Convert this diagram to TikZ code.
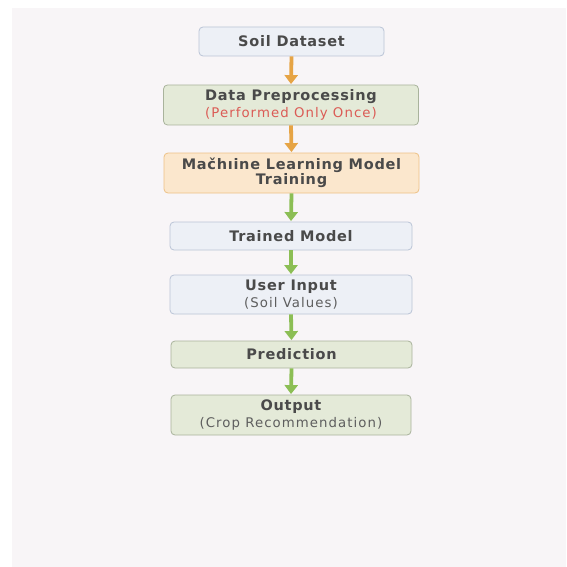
\documentclass[tikz,border=0pt]{standalone}
\usepackage{fontspec}
\setmainfont{DejaVu Sans}[LetterSpace=5]
\usetikzlibrary{arrows.meta}
\definecolor{bgc}{HTML}{F8F5F7}
\definecolor{txt}{HTML}{4A4A4A}
\definecolor{subtxt}{HTML}{5E5E5E}
\definecolor{redtxt}{HTML}{DB5B55}
\definecolor{bluefill}{HTML}{EDF0F6}
\definecolor{blueline}{HTML}{BAC4D6}
\definecolor{greenfill}{HTML}{E4EAD8}
\definecolor{greenline}{HTML}{A9B39C}
\definecolor{orangefill}{HTML}{FBE7CD}
\definecolor{orangeline}{HTML}{EDC186}
\definecolor{orangearrow}{HTML}{E6A445}
\definecolor{greenarrow}{HTML}{8CBE55}
\newcommand\mysubfont{\fontsize{13.3}{13}\selectfont\mdseries\addfontfeatures{LetterSpace=8}}
\tikzset{
  boxbase/.style={rectangle, rounded corners=4pt, line width=0.8pt, align=center,
    inner sep=0pt, text=txt, font=\fontsize{14.5}{15}\selectfont\bfseries},
  bluebox/.style={boxbase, fill=bluefill, draw=blueline},
  greenbox/.style={boxbase, fill=greenfill, draw=greenline},
  orangebox/.style={boxbase, fill=orangefill, draw=orangeline},
  flowarrow/.style={line width=3.8pt, -{Triangle[width=13pt,length=9pt]}, shorten >=0.5pt},
}
\begin{document}
\begin{tikzpicture}[x=1pt,y=-1pt]
\useasboundingbox (0,0) rectangle (566,567);
\fill[white] (0,0) rectangle (566,567);
\fill[bgc] (12,8) rectangle (566,567);

\node[bluebox, minimum width=185pt, minimum height=29pt] (soil) at (291.5,41.5) {Soil Dataset};
\node[greenbox, minimum width=255pt, minimum height=40pt] (prep) at (291,105)
  {Data Preprocessing\\[1.5pt]{\mysubfont\color{redtxt}(Performed Only Once)}};
\node[orangebox, minimum width=255pt, minimum height=40pt] (ml) at (291.5,173)
  {Mačhıine Learning Model\\[0pt]Training};
\node[bluebox, minimum width=242pt, minimum height=28pt] (trained) at (291,236) {Trained Model};
\node[bluebox, minimum width=242pt, minimum height=39pt] (user) at (291,294.5)
  {User Input\\[1.5pt]{\mysubfont\color{subtxt}(Soil Values)}};
\node[greenbox, minimum width=241pt, minimum height=27pt] (pred) at (291.5,354.5) {Prediction};
\node[greenbox, minimum width=240pt, minimum height=40pt] (out) at (291,415)
  {Output\\[1.5pt]{\mysubfont\color{subtxt}(Crop Recommendation)}};

\draw[flowarrow, orangearrow] (soil.south) -- (prep.north);
\draw[flowarrow, orangearrow] (prep.south) -- (ml.north);
\draw[flowarrow, greenarrow] (ml.south) -- (trained.north);
\draw[flowarrow, greenarrow] (trained.south) -- (user.north);
\draw[flowarrow, greenarrow] (user.south) -- (pred.north);
\draw[flowarrow, greenarrow] (pred.south) -- (out.north);
\end{tikzpicture}
\end{document}
